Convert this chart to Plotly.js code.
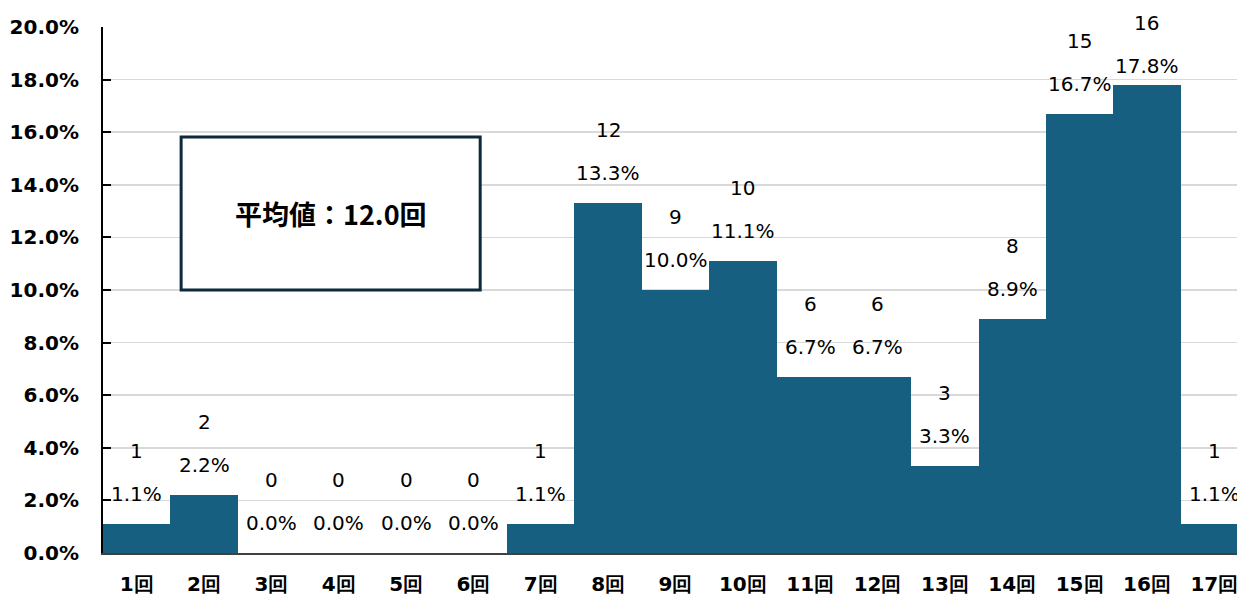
<!DOCTYPE html>
<html><head><meta charset="utf-8">
<script src="https://cdn.plot.ly/plotly-3.0.1.min.js"></script>
<style>html,body{margin:0;padding:0;overflow:hidden;background:#fff;}#chart{width:1250px;height:599px;}</style>
</head><body><div id="chart"></div>
<script>
const categories = ['1回','2回','3回','4回','5回','6回','7回','8回','9回','10回','11回','12回','13回','14回','15回','16回','17回'];
const counts = [1,2,0,0,0,0,1,12,9,10,6,6,3,8,15,16,1];
const percents = [1.1,2.2,0.0,0.0,0.0,0.0,1.1,13.3,10.0,11.1,6.7,6.7,3.3,8.9,16.7,17.8,1.1];
const averageText = '平均値：12.0回';

const FONT = 'DejaVu Sans, Verdana, sans-serif';
const pxPerUnit = 526/20;
const annotations = [];
categories.forEach((c,i)=>{
  const v = percents[i];
  const cs = Math.min(73, (20 - v)*pxPerUnit + 4);
  const ps = cs - 43;
  annotations.push({x:c, y:v, xref:'x', yref:'y', text:String(counts[i]), showarrow:false, yshift:cs, font:{family:FONT,size:20,color:'#000'}});
  annotations.push({x:c, y:v, xref:'x', yref:'y', text:percents[i].toFixed(1)+'%', showarrow:false, yshift:ps, font:{family:FONT,size:20,color:'#000'}});
});
annotations.push({x:2.88, y:12.9, xref:'x', yref:'y', text:'<b>'+averageText+'</b>', showarrow:false, font:{family:'Noto Sans CJK JP, DejaVu Sans, sans-serif',size:27,color:'#000'}});

const data = [{type:'bar', x:categories, y:percents, marker:{color:'#175f81', line:{width:0}}, hoverinfo:'skip'}];
const layout = {
  width:1250, height:599,
  margin:{l:103, r:2, t:27, b:46},
  paper_bgcolor:'#fff', plot_bgcolor:'#fff',
  bargap:0, showlegend:false,
  xaxis:{type:'category', range:[-0.5,16.5], showgrid:false, showline:true, linecolor:'#404040', linewidth:2,
    ticks:'', tickfont:{family:FONT,size:20,color:'#000',weight:'bold'}, ticklabelstandoff:12, fixedrange:true},
  yaxis:{range:[0,20], dtick:2, tick0:0, tickformat:'.1f', ticksuffix:'%', showgrid:true, gridcolor:'#d9d9d9', gridwidth:1.5,
    showline:true, linecolor:'#000', linewidth:2, ticks:'inside', ticklen:8, tickcolor:'#000', tickwidth:2,
    tickfont:{family:FONT,size:20,color:'#000',weight:'bold'}, ticklabelstandoff:18, zeroline:false, fixedrange:true},
  shapes:[{type:'rect', xref:'x', yref:'y', x0:0.66, x1:5.1, y0:10.0, y1:15.82, line:{color:'#0d2a3a', width:3}, fillcolor:'#fff', layer:'above'}],
  annotations:annotations
};
Plotly.newPlot('chart', data, layout, {staticPlot:true});
</script></body></html>
